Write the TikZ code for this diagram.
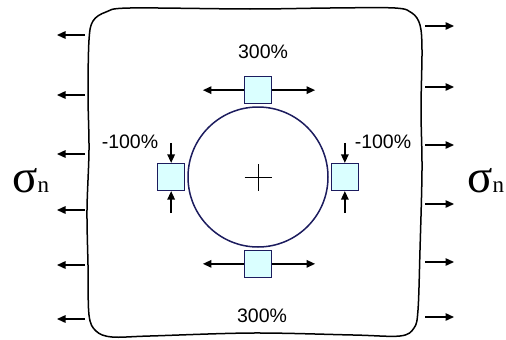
\documentclass[tikz,border=0pt]{standalone}
\usepackage{fontspec}
\setmainfont{Liberation Sans}
\newfontfamily\greekfont{Liberation Serif}
\usepackage{tikz}
\usetikzlibrary{arrows.meta, positioning}
\definecolor{gaugefill}{HTML}{DAFFFF}
\definecolor{holeblue}{HTML}{1C1C5E}

\begin{document}
\begin{tikzpicture}[x=1pt, y=-1pt,
  load/.style={line width=1.4pt, -{Triangle[length=8.5pt,width=7.5pt]}},
  gauge/.style={draw=holeblue, line width=1.2pt, fill=gaugefill, minimum size=27pt, inner sep=0pt},
  pct/.style={font=\fontsize{19.5}{19.5}\selectfont, inner sep=0pt, anchor=base},
  stress/.style={font=\greekfont\fontsize{47}{47}\selectfont, inner sep=0pt, anchor=base west},
  node distance=2pt]
  \useasboundingbox (0,0) rectangle (506,340);

  % plate outline
  \draw[line width=1.5pt] plot[smooth cycle, tension=0.55] coordinates {
    (89,40) (93,21) (106,12) (130,8) (250,9) (330,8) (395,8) (412,13) (420,25)
    (422,50) (421,110) (422,170) (420,250) (418,310) (414,328) (400,336)
    (353,335) (253,333) (150,336) (112,337) (96,331) (89,315) (88,265)
    (87,210) (89,150) (88,95)};

  % far-field tension
  \foreach \y in {35,95,154,210,265,319}
    \draw[load] (85,\y) -- (57,\y);
  \foreach \y in {26,87,145,204,262,317}
    \draw[load] (425,\y) -- (454,\y);

  \node[stress] (sigL) at (12,192) {σ{\fontsize{23}{23}\selectfont n}};
  \node[stress] (sigR) at (467,192) {σ{\fontsize{23}{23}\selectfont n}};

  % hole with gauges
  \node[circle, draw=holeblue, line width=1.5pt, minimum size=140pt, inner sep=0pt] (hole) at (258,177) {};
  \draw[line width=0.8pt] ([xshift=-13.5pt]hole.center) -- ([xshift=13.5pt]hole.center)
                          ([yshift=-13.5pt]hole.center) -- ([yshift=13.5pt]hole.center);

  \node[gauge, above=of hole] (top) {};
  \node[gauge, below=of hole] (bot) {};
  \node[gauge, left=of hole] (lft) {};
  \node[gauge, right=of hole] (rgt) {};

  \draw[load] (top.west) -- ++(-41,0);
  \draw[load] (top.east) -- ++(43,0);
  \draw[load] (bot.west) -- ++(-41,0);
  \draw[load] (bot.east) -- ++(43,0);
  \draw[load] (lft.north) ++(0,-20) -- (lft.north);
  \draw[load] (lft.south) ++(0,22) -- (lft.south);
  \draw[load] (rgt.north) ++(0,-20) -- (rgt.north);
  \draw[load] (rgt.south) ++(0,22) -- (rgt.south);

  \node[pct] (topval) at (263,58) {300\%};
  \node[pct] (botval) at (262,322) {300\%};
  \node[pct] (lftval) at (130,148) {-100\%};
  \node[pct] (rgtval) at (383,148) {-100\%};
\end{tikzpicture}
\end{document}
